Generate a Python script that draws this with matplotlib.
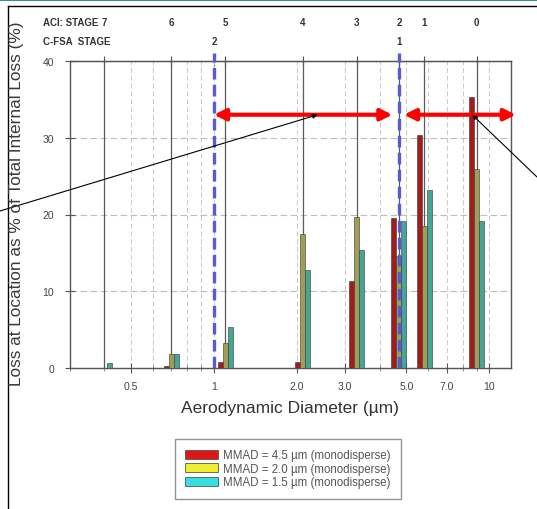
import numpy as np
import matplotlib
matplotlib.use("Agg")
import matplotlib.pyplot as plt
from matplotlib.ticker import FixedLocator, FixedFormatter, LogLocator, NullFormatter
from matplotlib.patches import Patch
from matplotlib.lines import Line2D

# ACI stage cutoff diameters (um), stages 7 -> 0
aci_stages = ['7', '6', '5', '4', '3', '2', '1', '0']
aci_cutoffs = [0.4, 0.7, 1.1, 2.1, 3.3, 4.7, 5.8, 9.0]
# C-FSA stage cutoffs
cfsa_stages = ['2', '1']
cfsa_cutoffs = [1.0, 4.7]

# loss at each stage location (% of total internal loss)
loss_mmad45 = [0.0, 0.2, 0.8, 0.8, 11.3, 19.5, 30.4, 35.3]
loss_mmad20 = [0.0, 1.8, 3.2, 17.5, 19.7, 14.6, 18.5, 25.9]
loss_mmad15 = [0.7, 1.8, 5.4, 12.8, 15.4, 19.2, 23.2, 19.2]
series_labels = ['MMAD = 4.5 \u00b5m (monodisperse)',
                 'MMAD = 2.0 \u00b5m (monodisperse)',
                 'MMAD = 1.5 \u00b5m (monodisperse)']

xtick_vals = [0.5, 1, 2, 3, 5, 7, 10]
xtick_labels = ['0.5', '1', '2.0', '3.0', '5.0', '7.0', '10']

# red range arrows (x from, x to) at y level
range_arrows = [(1.0, 4.45), (4.9, 12.5)]
arrow_level = 33

plt.rcParams['font.family'] = ['Liberation Sans', 'DejaVu Sans']

fig = plt.figure(figsize=(5.37, 5.10), dpi=100)
ax = fig.add_axes([70/537, 1-369/510, 441/537, 307/510])
ax.set_xscale('log')
ax.set_xlim(0.3, 12)
ax.set_ylim(0, 40)

# grid
ax.xaxis.set_major_locator(FixedLocator(xtick_vals))
ax.xaxis.set_major_formatter(FixedFormatter(xtick_labels))
ax.xaxis.set_minor_locator(LogLocator(subs='all'))
ax.xaxis.set_minor_formatter(NullFormatter())
ax.grid(True, which='both', axis='x', ls=(0, (5, 3)), color='#c8c8c8', lw=0.7)
ax.set_yticks([0, 10, 20, 30, 40])
ax.grid(True, which='major', axis='y', ls=(0, (6, 3)), color='#bdbdbd', lw=0.8)

for c in aci_cutoffs:
    ax.axvline(c, color='#5a5a5a', lw=0.9, zorder=2)

# grouped bars on a log axis: offsets in decades
step = 5/274
bar_w = 5/274
colors = ['#a31c1c', '#a39c58', '#46a595']
for k, (vals, col) in enumerate(zip([loss_mmad45, loss_mmad20, loss_mmad15], colors)):
    cut = np.array(aci_cutoffs)
    left = cut * 10**((k-1)*step - bar_w/2)
    right = cut * 10**((k-1)*step + bar_w/2)
    ax.bar(left, vals, width=right-left, align='edge', color=col,
           edgecolor='#333333', linewidth=0.4, zorder=3)

for c in cfsa_cutoffs:
    ax.axvline(c, ymax=1.025, color='#5a5ad6', lw=2.4, ls=(0, (3.5, 1.6)),
               zorder=4, clip_on=False)

for x0, x1 in range_arrows:
    ax.annotate('', xy=(x1, arrow_level), xytext=(x0, arrow_level),
                arrowprops=dict(arrowstyle='<|-|>', color='#ff0000', lw=3,
                                mutation_scale=17, shrinkA=0, shrinkB=0),
                annotation_clip=False, zorder=6)

# thin black pointers
ax.annotate('', xy=(2.38, arrow_level), xycoords='data', xytext=(0, 298),
            textcoords='figure pixels',
            arrowprops=dict(arrowstyle='-|>', color='black', lw=0.8,
                            mutation_scale=7, shrinkA=0, shrinkB=0),
            annotation_clip=False, zorder=7)
ax.annotate('', xy=(8.67, arrow_level), xycoords='data', xytext=(537, 332),
            textcoords='figure pixels',
            arrowprops=dict(arrowstyle='-|>', color='black', lw=0.8,
                            mutation_scale=7, shrinkA=0, shrinkB=0),
            annotation_clip=False, zorder=7)

# axes styling
for s in ax.spines.values():
    s.set_color('#555555')
    s.set_linewidth(1.0)
ax.tick_params(axis='both', which='major', direction='inout', length=7, width=0.8,
               color='#555555', labelsize=7.5, labelcolor='#444444')
ax.tick_params(axis='x', which='minor', direction='inout', length=4, width=0.6,
               color='#777777')
ax.tick_params(axis='x', pad=6)
ax.tick_params(axis='y', pad=8)

top = ax.secondary_xaxis('top')
top.set_xticks(aci_cutoffs + cfsa_cutoffs)
top.set_xticklabels([])
top.xaxis.set_minor_locator(FixedLocator([]))
top.tick_params(direction='inout', length=7, width=0.8, color='#555555')

# stage labels above the plot
trans = ax.get_xaxis_transform()
for c, s in zip(aci_cutoffs, aci_stages):
    ax.text(c, 1.127, s, transform=trans, ha='center', va='center',
            fontsize=7, fontweight='bold', color='#333333')
for c, s in zip(cfsa_cutoffs, cfsa_stages):
    ax.text(c, 1.065, s, transform=trans, ha='center', va='center',
            fontsize=7, fontweight='bold', color='#333333')
fig.text(43/537, 1-23/510, 'ACI: STAGE', ha='left', va='center',
         fontsize=7, fontweight='bold', color='#333333')
fig.text(43/537, 1-42/510, 'C-FSA  STAGE', ha='left', va='center',
         fontsize=7, fontweight='bold', color='#333333')

fig.text(17/537, 1-204/510, 'Loss at Location as % of Total Internal Loss (%)',
         rotation=90, ha='center', va='center', fontsize=12.4, color='#3a3a3a')
fig.text(290/537, 1-408/510, 'Aerodynamic Diameter (\u00b5m)',
         ha='center', va='center', fontsize=12.5, color='#333333')

handles = [Patch(facecolor=c, edgecolor='#555555', lw=0.6)
           for c in ['#e01515', '#f0ee30', '#35e0e0']]
leg = fig.legend(handles, series_labels, loc='upper left',
                 bbox_to_anchor=(175/537, 1-440/510), fontsize=8.3,
                 frameon=True, fancybox=False, edgecolor='#777777',
                 handlelength=2.8, handleheight=0.8, handletextpad=0.5,
                 labelspacing=0.12, borderpad=0.9, borderaxespad=0,
                 labelcolor='#555555')
leg.get_frame().set_linewidth(1.0)

# slide frame lines
fig.add_artist(Line2D([0, 1], [1-1/510, 1-1/510], color='#3d8f8c', lw=1.5))
fig.add_artist(Line2D([8/537, 1], [1-7/510, 1-7/510], color='black', lw=1.0))
fig.add_artist(Line2D([8/537, 8/537], [0, 1-7/510], color='black', lw=1.0))

fig.savefig('out.png', dpi=100)
